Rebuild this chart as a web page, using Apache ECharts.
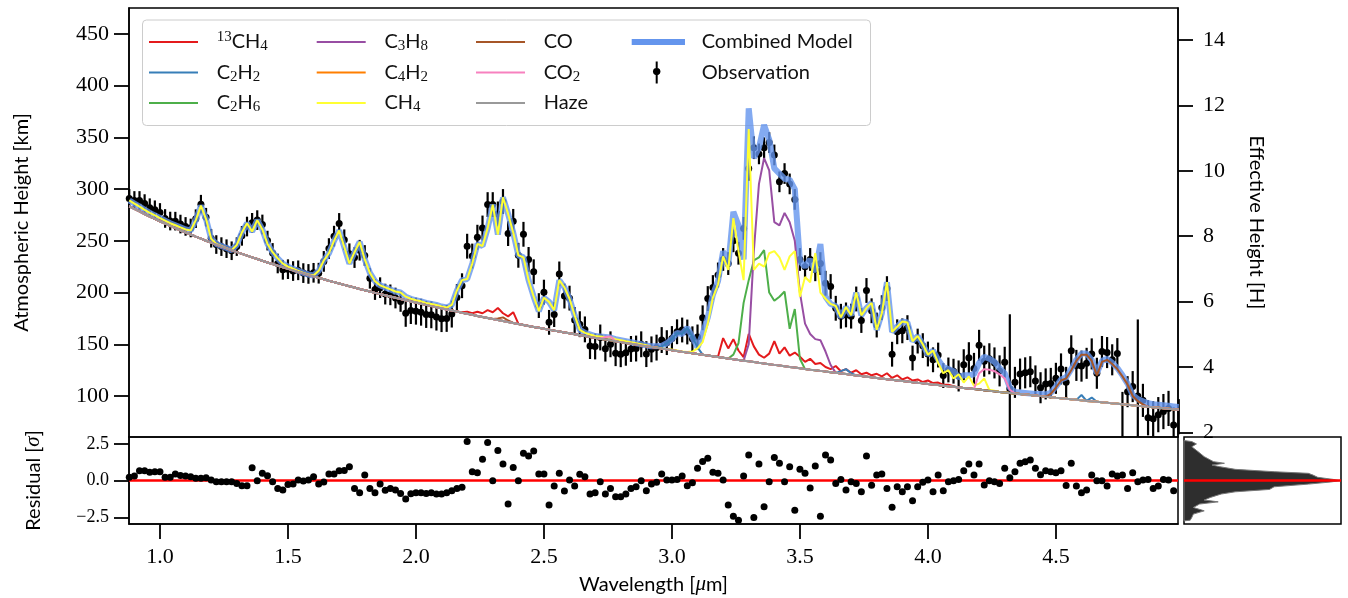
<!DOCTYPE html>
<html>
<head>
<meta charset="utf-8">
<script src="https://cdn.jsdelivr.net/npm/echarts@6.0.0/dist/echarts.min.js"></script>
<style>
  html, body { margin: 0; padding: 0; background: #fff; }
  #main { width: 1348px; height: 598px; }
</style>
</head>
<body>
<div id="main"></div>
<script>
// wavelength grid [um]
const wavelength = [0.88,0.90,0.92,0.94,0.96,0.98,
  1.00,1.02,1.04,1.06,1.08,1.10,1.12,1.14,1.16,1.18,1.20,1.22,1.24,1.26,1.28,1.30,1.32,1.34,1.36,1.38,1.40,1.42,1.44,1.46,1.48,
  1.50,1.52,1.54,1.56,1.58,1.60,1.62,1.64,1.66,1.68,1.70,1.72,1.74,1.76,1.78,1.80,1.82,1.84,1.86,1.88,1.90,1.92,1.94,1.96,1.98,
  2.00,2.02,2.04,2.06,2.08,2.10,2.12,2.14,2.16,2.18,2.20,2.22,2.24,2.26,2.28,2.30,2.32,2.34,2.36,2.38,2.40,2.42,2.44,2.46,2.48,
  2.50,2.52,2.54,2.56,2.58,2.60,2.62,2.64,2.66,2.68,2.70,2.72,2.74,2.76,2.78,2.80,2.82,2.84,2.86,2.88,2.90,2.92,2.94,2.96,2.98,
  3.00,3.02,3.04,3.06,3.08,3.10,3.12,3.14,3.16,3.18,3.20,3.22,3.24,3.26,3.28,3.30,3.32,3.34,3.36,3.38,3.40,3.42,3.44,3.46,3.48,
  3.50,3.52,3.54,3.56,3.58,3.60,3.62,3.64,3.66,3.68,3.70,3.72,3.74,3.76,3.78,3.80,3.82,3.84,3.86,3.88,3.90,3.92,3.94,3.96,3.98,
  4.00,4.02,4.04,4.06,4.08,4.10,4.12,4.14,4.16,4.18,4.20,4.22,4.24,4.26,4.28,4.30,4.32,4.34,4.36,4.38,4.40,4.42,4.44,4.46,4.48,
  4.50,4.52,4.54,4.56,4.58,4.60,4.62,4.64,4.66,4.68,4.70,4.72,4.74,4.76,4.78,4.80,4.82,4.84,4.86,4.88,4.90,4.92,4.94,4.96,4.98];

// haze continuum [km]
const haze = [283.4,280.9,278.4,275.9,273.5,271.2,
  268.9,266.7,264.5,262.3,260.2,258.1,256.1,254.0,252.1,250.1,248.2,246.3,244.5,242.7,240.9,239.1,237.4,235.7,234.0,232.4,230.7,229.1,227.6,226.0,224.4,
  222.9,221.4,219.9,218.5,217.0,215.6,214.2,212.8,211.4,210.1,208.7,207.4,206.1,204.8,203.5,202.2,201.0,199.7,198.5,197.3,196.1,194.9,193.7,192.6,191.4,
  190.3,189.2,188.1,186.9,185.8,184.8,183.7,182.6,181.6,180.5,179.5,178.5,177.4,176.4,175.4,174.4,173.5,172.5,171.5,170.6,169.6,168.7,167.7,166.8,165.9,
  165.0,164.1,163.2,162.3,161.4,160.6,159.7,158.8,158.0,157.1,156.3,155.4,154.6,153.8,153.0,152.1,151.3,150.5,149.7,148.9,148.2,147.4,146.6,145.8,145.1,
  144.3,143.6,142.8,142.1,141.3,140.6,139.9,139.2,138.4,137.7,137.0,136.3,135.6,134.9,134.2,133.5,132.8,132.1,131.5,130.8,130.1,129.5,128.8,128.1,127.5,
  126.8,126.2,125.5,124.9,124.3,123.6,123.0,122.4,121.8,121.2,120.5,119.9,119.3,118.7,118.1,117.5,116.9,116.3,115.7,115.1,114.6,114.0,113.4,112.8,112.3,
  111.7,111.1,110.6,110.0,109.4,108.9,108.3,107.8,107.2,106.7,106.2,105.6,105.1,104.5,104.0,103.5,103.0,102.4,101.9,101.4,100.9,100.4,99.9,99.4,98.9,
  98.3,97.8,97.3,96.8,96.3,95.8,95.3,94.9,94.4,93.9,93.4,92.9,92.5,92.0,91.5,91.0,90.5,90.1,89.6,89.2,88.7,88.2,87.8,87.3,86.8];

// combined model [km]
const combined = [289,286,283,280,277,274.5,
  272,269.5,267,265,263,261,260,270,284,271,252,247,245,243,241,246,258,267,259,270,261,247,239,233,228,
  225,223,221,219,217.5,216.5,221,231,238,250,260,244,228,239,249,232,219,211,207,205,203,201,200,196,194,
  192.5,191.5,190,189,188,186.5,185.5,188,202,212,213,228,247,245,262,285,256,292,276,258,236,234,212,196,182,
  195,191,183,212,205,194,178,164,161,159.5,158,157.5,157,156.5,155,154,153,152,151,150,149,148,148,148.5,151,
  155,161,160,166,157,147,160,176,198,211,240,226,278,265,232,378,330,340,362,348,320,315,310,309,300,
  230,225,232,220,247,196,189,187,176,186,178,200,178,185,190,164,180,210,162,167,172,171,153,158,150,
  140,144,135,128,126,124,118,120,120,121,132,138,136,133,127,122,108,104,103.5,103,102.5,102,102,101.5,103,
  109,116,118,126,135,141,141,135,122,134,136,132,127,120,112,101,97,95,93,92,91.5,91,90.5,90,89.5];

// CH4 component [km]
const ch4 = [289,286,283,280,277,274.5,
  272,269.5,267,265,263,261,260,270,284,271,252,247,245,243,241,246,258,267,259,270,261,247,239,233,228,
  225,223,221,219,217.5,216.5,221,231,238,250,260,244,228,239,249,232,219,211,207,205,203,201,200,196,194,
  192.5,191.5,190,189,188,186.5,185.5,188,202,212,213,228,247,245,262,285,256,292,276,258,236,234,212,196,182,
  195,191,183,212,205,194,178,164,161,159.5,158,157.5,157,156.5,155,154,153,152,151,150,149,147.5,146.8,146,145.5,
  145,144,143,142.5,143,146,152,170,195,208,235,222,272,240,212,358,222,228,225,238,240,234,222,235,240,
  196,215,210,238,200,194,189,187,176,186,178,200,178,185,190,164,180,210,162,167,172,171,153,158,150,
  140,144,132,122,125,117,121,113,119,110,112,117,106,105,104.0,103.5,103.0,102.4,101.9,101.4,100.9,100.4,99.9,99.4,98.9,
  98.3,97.8,97.3,96.8,96.3,95.8,95.3,94.9,94.4,93.9,93.4,92.9,92.5,92.0,91.5,91.0,90.5,90.1,89.6,89.2,88.7,88.2,87.8,87.3,86.8];

// other components: only where they rise above the haze
const ch4_13Wl = [2.18,2.20,2.22,2.24,2.26,2.28,2.30,2.32,2.34,2.36,2.38,2.40,
  3.18,3.20,3.22,3.24,3.26,3.28,3.30,3.32,3.34,3.36,3.38,3.40,3.42,3.44,3.46,3.48,3.50,3.52,3.54,3.56,3.58,3.60,
  3.62,3.64,3.66,3.68,3.70,3.72,3.74,3.76,3.78,3.80,3.82,3.84,3.86,3.88,3.90,3.92,3.94,3.96,3.98,4.00,4.02,4.04,4.06,4.08,4.10];
const ch4_13Km = [181,181.5,180,181.5,180,183,181,185,180,177,181,170,
  138,156,146,155,144,137.5,160,148,140,137,141,153,141,147,139,142,138,133,136,131,132,128,
  126,129,124,126,122.5,125,121,122.5,120,121.5,119,122,117.5,120,116,118,115,116,113.5,115,112.5,113,111,111,109.5];
const c2h2Wl = [2.96,2.98,3.00,3.02,3.04,3.06,3.08,3.10,3.12,3.66,3.68,3.70,4.60,4.62,4.64];
const c2h2Km = [148,151,155,161,160,166,157,147,140,124,126,122,101,95.3,98.5];
const c2h6Wl = [3.22,3.24,3.26,3.28,3.30,3.32,3.34,3.36,3.38,3.40,3.42,3.44,3.46,3.48,3.50,3.52];
const c2h6Km = [136.3,140,151,190,212,231,234,241,200,192,196,201,165,184,136,126];
const c3h8Wl = [3.28,3.30,3.32,3.34,3.36,3.38,3.40,3.42,3.44,3.46,3.48,3.50,3.52,3.54,3.56,3.58,3.60,3.62,3.64];
const c3h8Km = [134.2,150,240,305,330,318,268,265,277,268,250,200,170,160,155,154,143,130,122.4];
const c4h2Wl = [];
const c4h2Km = [];
const coWl = [2.32,2.34,2.36,4.46,4.48,4.50,4.52,4.54,4.56,4.58,4.60,4.62,4.64,4.66,4.68,4.70,4.72,4.74,4.76,4.78,4.80,4.82,4.84,4.86];
const coKm = [175,176,173,99.4,102,108,115,117,125,134,140,140,134,120,133,135,131,126,119,111,100,95,92,89.6];
const co2Wl = [2.72,2.74,2.76,2.78,4.18,4.20,4.22,4.24,4.26,4.28,4.30,4.32,4.34];
const co2Km = [155.4,157,157.5,153,106.7,122,126,125.5,124,121,117,106,102.4];

// observation [km] and 1-sigma error [km]
const obs = [291,289,289,286,282,280,
  277.4,271.6,269.1,269,266.2,263.9,262.4,271.4,285.4,272.8,252.5,246.4,244.4,242.4,240.4,244.4,254.8,263.8,267.4,270,265.8,250.2,238.3,228.1,222,
  222.6,220.8,221.5,218.8,218,219.1,218.7,230.1,242.5,254.5,266.8,251,237.5,233.8,240.9,235.8,213.8,202.9,204.7,198.5,197.8,194.7,191.4,179.9,182.6,
  182,181,178.8,178.5,176.3,174.8,175,179.2,195.2,206.6,244.8,235.3,253.5,262.4,285,285,276,288,257,268.8,236,256.3,232,220.1,187.4,
  200.4,171.2,178.7,218,196.6,194.6,173.5,169.4,164.4,148.3,147.9,156.6,145.8,150,141.4,140.4,141.8,145.5,145.9,150,140.5,145.1,146.8,154.1,151.6,
  155.6,162.1,163.8,161.9,155.3,157.1,175.6,194.2,204.8,217,232,228,250,238,262,320,340,334,340,345,333,307,315,305,290,
  232,225,232,222,228,209,205.8,184.8,177.1,178.4,177.2,193.8,173,202,182.4,168.6,185.4,203.8,140.4,162.1,163,166.1,136.7,153.1,148.7,
  140.6,135,139.6,119.8,125.2,124,119.4,130.2,137,126.7,149,133.7,136,132,124.3,132.6,107,113.2,121.2,122.4,123.5,114.6,108,111.7,112.2,
  117.1,126.2,113.2,143.7,129.6,128.9,131.6,140.7,122,143,142,135,141,42,104.2,109.1,100,95.8,79,78,82,85,88,72,80];
const err = [9,9,9,9,9,9,
  9,9,9,9,9,9,9,9,9,9,9,9,9,9,9,9,9.5,9.5,9.5,9.5,9.5,9.5,9.5,9.5,9.5,
  9.5,9.5,9.5,9.5,9.5,9.5,10,10,10,10,10,10,10,10,10,10,10,10,10,10,10,10,10,13,13,
  13,13,13,13,13,13,13,13,13,12,12,12,12,12,12,12,12,12,12,12,12,12,12,12,12,
  12,12,12,12,12,12,12.5,12.5,12.5,12.5,12.5,12.5,12.5,12.5,12.5,12.5,12.5,12.5,12.5,12.5,12.5,12.5,12.5,12.5,12,
  12,12,12,12,12,12,12,12,12,12,11,11,11,11,11,12,11,10,10,10,10,10,10,10,10,
  11,11,11,11,11,12,12,12,12,12,12,12,12,12,12,12,12,12,12,12,12,12,12,12,12,
  12,12,12,12,12,12,15,15,15,15,15,15,15,15,15,15,72,15,15,15,15,15,15,15,15,
  15,15,15,15,15,15,15,15,15,15,15,15,15,62,15,15,74,16,17,17,17,17,17,17,17];

// residuals [sigma]
const residual = [0.23,0.32,0.68,0.68,0.57,0.61,
  0.6,0.23,0.23,0.45,0.36,0.32,0.27,0.16,0.16,0.2,0.05,-0.07,-0.07,-0.07,-0.07,-0.18,-0.34,-0.34,0.88,0,0.5,0.34,-0.07,-0.52,-0.63,
  -0.25,-0.23,0.05,-0.02,0.05,0.27,-0.23,-0.09,0.45,0.45,0.68,0.7,0.95,-0.52,-0.81,0.38,-0.52,-0.81,-0.23,-0.65,-0.52,-0.63,-0.86,-1.24,-0.88,
  -0.81,-0.81,-0.86,-0.81,-0.9,-0.9,-0.81,-0.68,-0.52,-0.45,2.65,0.61,0.54,1.45,2.58,0,2.04,1.13,-1.58,0.9,0,1.86,1.67,2.01,0.45,
  0.45,-1.65,-0.36,0.5,-0.7,0.05,-0.36,0.43,0.27,-0.9,-0.81,-0.07,-0.9,-0.52,-1.09,-1.09,-0.9,-0.52,-0.41,0,-0.68,-0.23,-0.1,0.45,0.05,
  0.05,0.09,0.32,-0.34,-0.14,0.84,1.3,1.52,0.57,0.5,0.05,-1.65,-2.4,-2.67,0.32,1.74,-2.49,1.13,-1.76,-0.07,1.58,1.18,-0.07,0.95,-2.0,
  0.77,0.5,-0.5,1.0,-2.4,1.74,1.4,-0.18,0.09,-0.63,-0.07,-0.18,-0.75,1.67,-0.3,0.38,0.45,-0.52,-1.8,-0.41,-0.75,-0.41,-1.36,-0.41,-0.11,
  0.05,-0.75,0.38,-0.68,-0.07,0,0.09,0.68,1.13,0.38,1.13,-0.29,0,-0.07,-0.18,0.84,0.2,0.61,1.18,1.29,1.4,0.84,0.4,0.68,0.61,
  0.54,0.68,-0.32,1.18,-0.36,-0.81,-0.63,0.38,0,0,-0.36,0.45,0.32,0.38,-0.52,0.54,-0.07,0.05,0.09,-0.52,-0.36,0.09,0.05,-0.68,-1.04];

// residual distribution (side panel), relative counts
const histResid = [2.72,2.65,2.49,2.30,1.97,1.63,1.40,1.29,1.18,1.06,0.95,0.77,0.61,0.50,0.38,0.23,0.09,0.00,
  -0.09,-0.23,-0.41,-0.59,-0.75,-0.90,-1.13,-1.31,-1.43,-1.58,-1.81,-2.04,-2.26,-2.49,-2.67,-2.72];
const histCount = [0,5,8,5,9,13,17,19,26,18,23,33,58,80,83,86,96,100,94,80,58,55,33,24,17,13,22,10,6,13,6,5,4,0];

const xTicks = [1.0,1.5,2.0,2.5,3.0,3.5,4.0,4.5];
const kmTicks = [100,150,200,250,300,350,400,450];
const hTicks = [2,4,6,8,10,12,14];
const resTicks = [-2.5,0,2.5];

const serif = 'Liberation Serif';
const sans = 'Lato';

function key(w) { return w.toFixed(2); }
function onHaze(wl, km) {
  const m = {};
  wl.forEach((w, i) => { m[key(w)] = km[i]; });
  return wavelength.map((w, i) => [w, key(w) in m ? m[key(w)] : haze[i]]);
}
function full(vals) { return wavelength.map((w, i) => [w, vals[i]]); }

const myChart = echarts.init(document.getElementById('main'), null, { renderer: 'canvas' });

const tick = { show: true, inside: false, length: 15, lineStyle: { color: '#000', width: 1.8 } };
const spine = { show: true, onZero: false, lineStyle: { color: '#000', width: 1.5 } };
const nameStyle = { fontFamily: sans, fontSize: 20, color: '#000',
  rich: { i: { fontFamily: serif, fontStyle: 'italic', fontSize: 21 } } };

function lineSeries(name, data, color, width, z) {
  return { type: 'line', name: name, data: data, xAxisIndex: 0, yAxisIndex: 0,
    symbol: 'none', color: color, lineStyle: { color: color, width: width },
    z: z, silent: true, clip: true };
}

// legend icons, drawn in boxes sized like the legend items
const thinIcon = 'path://M0,0h0.01v0.01h-0.01zM62.7,23.99h0.01v0.01h-0.01zM0,10.9h49v2.2h-49z';
const thickIcon = 'path://M0,0h0.01v0.01h-0.01zM65,23.99h0.01v0.01h-0.01zM0,9h53.3v6h-53.3z';
const obsIcon = 'path://M0,0h0.01v0.01h-0.01zM65,23.99h0.01v0.01h-0.01zM24,1h2v22h-2z' +
  'M28.8,11L28.3,12.9L26.9,14.3L25,14.8L23.1,14.3L21.7,12.9L21.2,11L21.7,9.1L23.1,7.7L25,7.2L26.9,7.7L28.3,9.1Z';

const legendLabel = {
  '13CH4': '{sup|13}{n|CH}{sub|4}',
  'C2H2': '{n|C}{sub|2}{n|H}{sub|2}',
  'C2H6': '{n|C}{sub|2}{n|H}{sub|6}',
  'C3H8': '{n|C}{sub|3}{n|H}{sub|8}',
  'C4H2': '{n|C}{sub|4}{n|H}{sub|2}',
  'CH4': '{n|CH}{sub|4}',
  'CO': '{n|CO}',
  'CO2': '{n|CO}{sub|2}',
  'Haze': '{n|Haze}',
  'Combined Model': '{n|Combined Model}',
  'Observation': '{n|Observation}'
};
const legendText = {
  color: '#111',
  rich: {
    n: { fontFamily: sans, fontSize: 20, lineHeight: 24, color: '#111' },
    sub: { fontFamily: serif, fontSize: 15, lineHeight: 15, verticalAlign: 'bottom', color: '#111' },
    sup: { fontFamily: serif, fontSize: 15, lineHeight: 15, verticalAlign: 'top', color: '#111' }
  }
};
function legendCol(left, names, icon, w) {
  return { left: left, top: 30, orient: 'vertical', itemGap: 6.5, padding: 0,
    itemWidth: w, itemHeight: 24, selectedMode: false, icon: icon,
    formatter: n => legendLabel[n], textStyle: legendText,
    data: names };
}

const option = {
  animation: false,
  backgroundColor: '#fff',
  graphic: [{
    type: 'rect', left: 142, top: 19.5, z: 0,
    shape: { width: 728, height: 105.5, r: 4 },
    style: { fill: 'rgba(255,255,255,0.8)', stroke: '#cccccc', lineWidth: 1 }
  }],
  legend: [
    legendCol(149, ['13CH4', 'C2H2', 'C2H6'], thinIcon, 62.7),
    legendCol(316.7, ['C3H8', 'C4H2', 'CH4'], thinIcon, 62.7),
    legendCol(476, ['CO', 'CO2', 'Haze'], thinIcon, 62.7),
    Object.assign(legendCol(631.7, [], thickIcon, 65), {
      data: [{ name: 'Combined Model', icon: thickIcon },
             { name: 'Observation', icon: obsIcon, itemStyle: { color: '#000', borderWidth: 0 } }]
    })
  ],
  grid: [
    { left: 129, top: 8, width: 1049, height: 429, show: true, borderColor: '#000', borderWidth: 1.5 },
    { left: 129, top: 437, width: 1049, height: 87, show: true, borderColor: '#000', borderWidth: 1.5 },
    { left: 1184, top: 437, width: 157, height: 87, show: true, borderColor: '#000', borderWidth: 1.5 }
  ],
  xAxis: [
    { gridIndex: 0, type: 'value', min: 0.879, max: 4.977, show: false },
    { gridIndex: 1, type: 'value', min: 0.879, max: 4.977,
      axisLine: spine, splitLine: { show: false },
      axisTick: Object.assign({ customValues: xTicks }, tick),
      axisLabel: { customValues: xTicks, formatter: v => v.toFixed(1), margin: 22,
        fontFamily: serif, fontSize: 22, color: '#000' },
      name: 'Wavelength [{i|μ}m]', nameLocation: 'middle', nameGap: 50, nameTextStyle: nameStyle },
    { gridIndex: 2, type: 'value', min: 0, max: 101, show: false }
  ],
  yAxis: [
    { gridIndex: 0, type: 'value', min: 60.4, max: 475,
      axisLine: spine, splitLine: { show: false },
      axisTick: Object.assign({ customValues: kmTicks }, tick),
      axisLabel: { customValues: kmTicks, margin: 20, fontFamily: serif, fontSize: 22, color: '#000' },
      name: 'Atmospheric Height [km]', nameLocation: 'middle', nameGap: 97, nameTextStyle: nameStyle },
    { gridIndex: 0, type: 'value', position: 'right', min: 1.857, max: 14.977,
      axisLine: spine, splitLine: { show: false },
      axisTick: Object.assign({ customValues: hTicks }, tick),
      axisLabel: { customValues: hTicks, margin: 25, fontFamily: serif, fontSize: 22, color: '#000' },
      name: 'Effective Height [H]', nameLocation: 'middle', nameRotate: -90, nameGap: 68, nameTextStyle: nameStyle },
    { gridIndex: 1, type: 'value', min: -2.93, max: 2.96,
      axisLine: spine, splitLine: { show: false },
      axisTick: Object.assign({ customValues: resTicks }, tick),
      axisLabel: { customValues: resTicks, margin: 20, fontFamily: serif, fontSize: 18, color: '#000',
        formatter: v => v.toFixed(1).replace('-', '\u2212') },
      name: 'Residual [{i|σ}]', nameLocation: 'middle', nameGap: 85, nameTextStyle: nameStyle },
    { gridIndex: 2, type: 'value', min: -2.93, max: 2.96, show: false }
  ],
  series: [
    { type: 'scatter', name: 'Observation', xAxisIndex: 0, yAxisIndex: 0, z: 1, silent: true,
      symbolSize: 7, itemStyle: { color: '#000', opacity: 1 }, clip: true, data: full(obs) },
    {
      type: 'custom', name: 'Observation', xAxisIndex: 0, yAxisIndex: 0, z: 1, silent: true,
      itemStyle: { color: '#000' },
      encode: { x: 0, y: [1, 2] },
      data: wavelength.map((w, i) => [w, obs[i] - err[i], obs[i] + err[i]]),
      renderItem: function (params, api) {
        const lo = api.coord([api.value(0), api.value(1)]);
        const hi = api.coord([api.value(0), api.value(2)]);
        const cs = params.coordSys;
        const clampY = y => Math.max(cs.y, Math.min(cs.y + cs.height, y));
        return { type: 'line',
          shape: { x1: lo[0], y1: clampY(lo[1]), x2: hi[0], y2: clampY(hi[1]) },
          style: { stroke: '#000', lineWidth: 2.2 } };
      }
    },
    Object.assign(lineSeries('Combined Model', full(combined), '#6495ed', 6, 2),
      { lineStyle: { color: '#6495ed', width: 6, opacity: 0.8 } }),
    lineSeries('13CH4', onHaze(ch4_13Wl, ch4_13Km), '#e41a1c', 2, 3),
    lineSeries('C2H2', onHaze(c2h2Wl, c2h2Km), '#377eb8', 2, 3),
    lineSeries('C2H6', onHaze(c2h6Wl, c2h6Km), '#4daf4a', 2, 3),
    lineSeries('C3H8', onHaze(c3h8Wl, c3h8Km), '#984ea3', 2, 3),
    lineSeries('C4H2', onHaze(c4h2Wl, c4h2Km), '#ff7f00', 2, 3),
    lineSeries('CH4', full(ch4), '#ffff33', 2, 3),
    lineSeries('CO', onHaze(coWl, coKm), '#a65628', 2, 3),
    lineSeries('CO2', onHaze(co2Wl, co2Km), '#f781bf', 2, 3),
    lineSeries('Haze', full(haze), '#999999', 2, 3),
    {
      type: 'scatter', name: 'res', xAxisIndex: 1, yAxisIndex: 2, z: 3, silent: true,
      symbolSize: 7, itemStyle: { color: '#000', opacity: 1 }, clip: true, data: full(residual),
      markLine: { silent: true, symbol: 'none', label: { show: false }, z: 2,
        lineStyle: { color: '#ff0000', width: 2.5, type: 'solid' }, data: [{ yAxis: 0 }] }
    },
    {
      type: 'custom', name: 'hist', xAxisIndex: 2, yAxisIndex: 3, z: 2, silent: true,
      data: [[0, 0]],
      renderItem: function (params, api) {
        const pts = histResid.map((r, i) => api.coord([histCount[i], r]));
        return { type: 'polygon', shape: { points: pts },
          style: { fill: '#2e2e2e', stroke: '#777', lineWidth: 1 } };
      },
      markLine: { silent: true, symbol: 'none', label: { show: false },
        lineStyle: { color: '#ff0000', width: 2.5, type: 'solid' }, data: [{ yAxis: 0 }] }
    }
  ]
};

myChart.setOption(option);
</script>
</body>
</html>
